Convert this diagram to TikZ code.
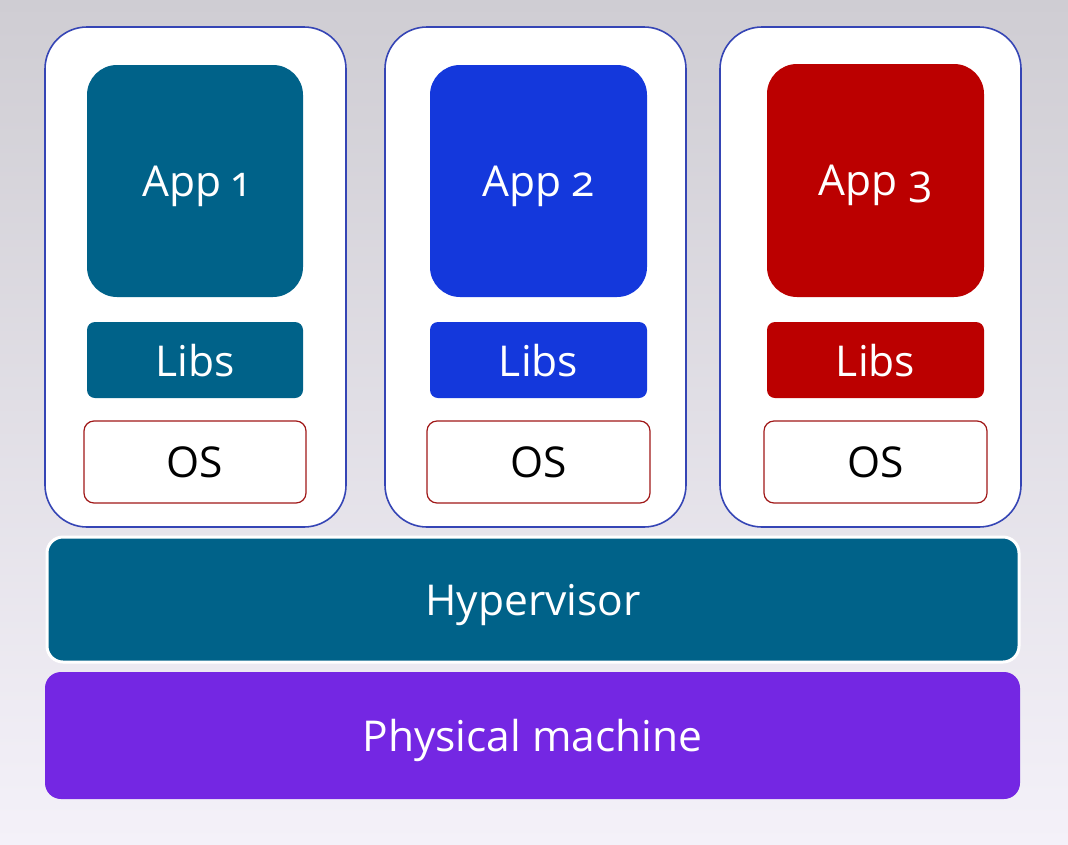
\documentclass[tikz,border=0pt]{standalone}
\usepackage{fontspec}
\setmainfont[Numbers=OldStyle]{Open Sans}
\definecolor{bgtop}{HTML}{CFCDD3}
\definecolor{bgbot}{HTML}{F4F1F9}
\definecolor{teal}{HTML}{006289}
\definecolor{appblue}{HTML}{1438DC}
\definecolor{appred}{HTML}{BB0000}
\definecolor{phys}{HTML}{7427E3}
\definecolor{vmline}{HTML}{3545B5}
\definecolor{osline}{HTML}{A01818}
\tikzset{
  lbl/.style={font=\fontsize{42.5}{44}\selectfont, text depth=0pt},
  vmbox/.style={draw=vmline, line width=1.6pt, fill=white, rounded corners=42pt},
  appbox/.style={lbl, rounded corners=30pt, text=white},
  libbox/.style={lbl, rounded corners=8pt, text=white},
  osbox/.style={lbl, draw=osline, line width=1.2pt, fill=white, rounded corners=10pt, text=black},
  layer/.style={lbl, rounded corners=16pt, text=white},
}
\begin{document}
\begin{tikzpicture}[x=1pt,y=-1pt]
\shade[top color=bgtop, bottom color=bgbot] (0,0) rectangle (1068,844);
\useasboundingbox (0,0) rectangle (1068,844);
% containers
\draw[vmbox] (45,27) rectangle (346,527);
\draw[vmbox] (385,27) rectangle (686,527);
\draw[vmbox] (720,27) rectangle (1021,527);
% apps
\node[appbox, fill=teal] (app1) at (195,181) [minimum width=216pt, minimum height=232pt] {App 1};
\node[appbox, fill=appblue] (app2) at (538.5,181) [minimum width=217pt, minimum height=232pt] {App 2};
\node[appbox, fill=appred] (app3) at (875.5,180.5) [minimum width=217pt, minimum height=233pt] {App 3};
% libs
\node[libbox, fill=teal] (lib1) at (195,360) [minimum width=216pt, minimum height=76pt] {Libs};
\node[libbox, fill=appblue] (lib2) at (538.5,360) [minimum width=217pt, minimum height=76pt] {Libs};
\node[libbox, fill=appred] (lib3) at (875.5,360) [minimum width=217pt, minimum height=76pt] {Libs};
% os
\node[osbox] (os1) at (195,462) [minimum width=222pt, minimum height=82pt] {OS};
\node[osbox] (os2) at (538.5,462) [minimum width=223pt, minimum height=82pt] {OS};
\node[osbox] (os3) at (875.5,462) [minimum width=223pt, minimum height=82pt] {OS};
% layers
\node[layer, fill=teal, draw=white, line width=3pt] (hyp) at (533,599.5) [minimum width=972pt, minimum height=125pt] {Hypervisor};
\node[layer, fill=phys] (pm) at (532.5,735.5) [minimum width=975pt, minimum height=127pt] {Physical machine};
\end{tikzpicture}
\end{document}
